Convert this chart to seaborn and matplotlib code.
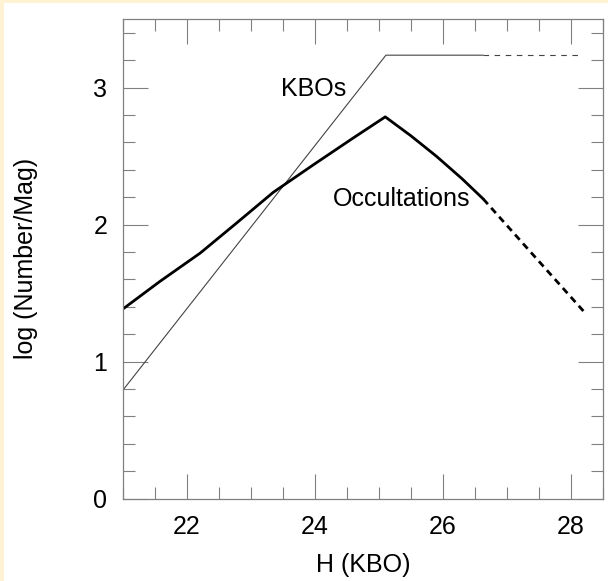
import matplotlib
matplotlib.use("Agg")
import matplotlib.pyplot as plt
import seaborn as sns
import pandas as pd
from matplotlib.ticker import MultipleLocator, FixedLocator
from matplotlib.patches import Rectangle

# ---- data ----
kbo_solid_h = [21.0, 25.11, 26.63]
kbo_solid_log = [0.79, 3.236, 3.236]
kbo_dash_h = [26.63, 28.15]
kbo_dash_log = [3.236, 3.236]

occ_solid_h = [21.0, 21.58, 22.21, 22.78, 23.35, 23.98, 24.6, 25.1, 25.5, 25.9, 26.3, 26.63]
occ_solid_log = [1.383, 1.585, 1.792, 2.012, 2.235, 2.437, 2.632, 2.786, 2.648, 2.498, 2.334, 2.187]
occ_dash_h = [26.63, 27.4, 28.2]
occ_dash_log = [2.187, 1.784, 1.366]

x_major_ticks = [22, 24, 26, 28]
y_major_ticks = [0, 1, 2, 3]
x_label = "H (KBO)"
y_label = "log (Number/Mag)"
kbo_text = "KBOs"
occ_text = "Occultations"

sns.set_style("ticks")
plt.rcParams["font.family"] = ["Liberation Sans", "DejaVu Sans"]
plt.rcParams["text.color"] = "black"
plt.rcParams["axes.labelcolor"] = "black"
plt.rcParams["xtick.labelcolor"] = "black"
plt.rcParams["ytick.labelcolor"] = "black"

fig = plt.figure(figsize=(6.08, 5.81), dpi=100)
fig.patch.set_facecolor("#FFF3D4")
fig.add_artist(Rectangle((4 / 608, 0), 1, 1 - 3 / 581, transform=fig.transFigure,
                         facecolor="white", edgecolor="none", zorder=-10))
ax = fig.add_axes([122.7 / 608, 1 - 498.7 / 581, (603 - 122.7) / 608, (498.7 - 19) / 581])
ax.set_facecolor("white")

def seg(h, v):
    return pd.DataFrame({"h": h, "v": v})

sns.lineplot(data=seg(kbo_solid_h, kbo_solid_log), x="h", y="v", ax=ax, sort=False,
             estimator=None, color="#444444", lw=0.8)
sns.lineplot(data=seg(kbo_dash_h, kbo_dash_log), x="h", y="v", ax=ax, sort=False,
             estimator=None, color="#444444", lw=0.8, linestyle=(0, (5, 5)))
sns.lineplot(data=seg(occ_solid_h, occ_solid_log), x="h", y="v", ax=ax, sort=False,
             estimator=None, color="black", lw=2.0)
sns.lineplot(data=seg(occ_dash_h, occ_dash_log), x="h", y="v", ax=ax, sort=False,
             estimator=None, color="black", lw=2.0, linestyle=(0, (2.5, 1.8)))

ax.set_xlim(21, 28.5)
ax.set_ylim(0, 3.5)
ax.xaxis.set_major_locator(FixedLocator(x_major_ticks))
ax.xaxis.set_minor_locator(MultipleLocator(0.5))
ax.yaxis.set_major_locator(FixedLocator(y_major_ticks))
ax.yaxis.set_minor_locator(MultipleLocator(0.2))

for s in ax.spines.values():
    s.set_color("#808080")
    s.set_linewidth(0.9)
    s.set_visible(True)

ax.tick_params(which="both", direction="in", top=True, right=True, color="#808080",
               width=0.8, labelsize=18)
ax.tick_params(which="major", length=18)
ax.tick_params(which="minor", length=8.5)
ax.tick_params(axis="y", which="major", pad=11)
ax.tick_params(axis="x", which="major", pad=12)

ax.set_xlabel(x_label, fontsize=18, labelpad=10)
ax.set_ylabel(y_label, fontsize=18, labelpad=40)

ax.text(23.98, 2.99, kbo_text, fontsize=18, ha="center", va="center")
ax.text(25.36, 2.19, occ_text, fontsize=18, ha="center", va="center")

fig.savefig("out.png", dpi=100, facecolor=fig.get_facecolor())
